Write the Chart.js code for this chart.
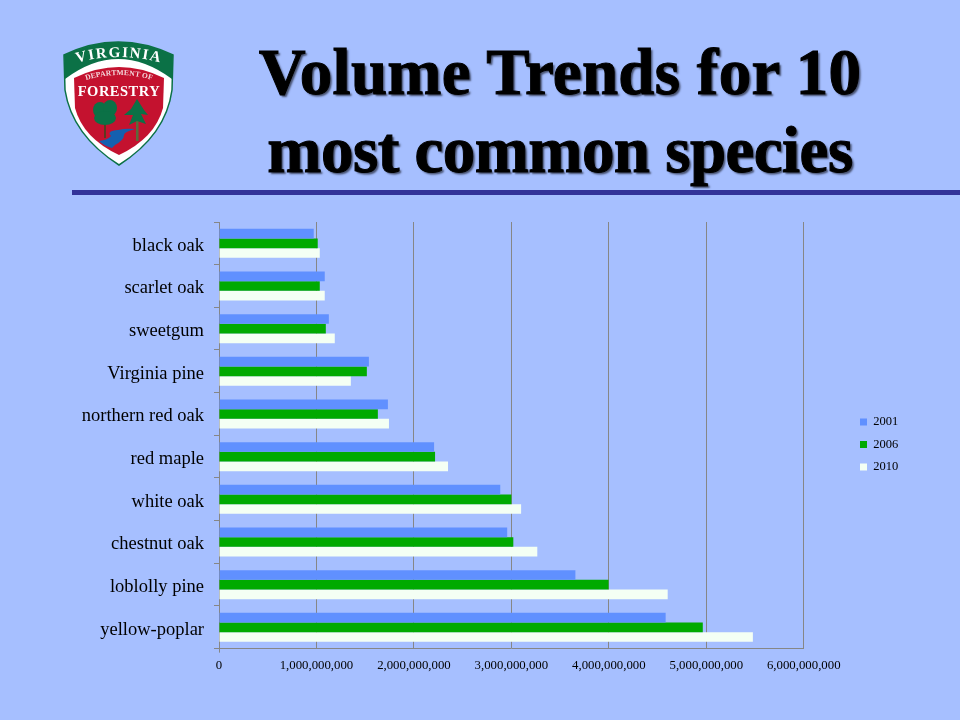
<!DOCTYPE html>
<html>
<head>
<meta charset="utf-8">
<script src="https://cdn.jsdelivr.net/npm/chart.js@4"></script>
<style>
  html, body { margin: 0; padding: 0; background: #A6BFFF; }
  #slide { position: relative; width: 960px; height: 720px; overflow: hidden; background: #A6BFFF; }
  #volume { position: absolute; left: 0; top: 0; }
  h1 {
    position: absolute; left: 200px; width: 720px; top: 33px; margin: 0; text-align: center;
    font: bold 65px/78px "Liberation Serif", serif; color: #000;
    -webkit-text-stroke: 1px #000;
    text-shadow: 2px 2px 2px #46506e;
  }
  h1 span { display: block; white-space: nowrap; }
  #rule { position: absolute; left: 72px; right: 0; top: 190px; height: 5px; background: #333399; }
  #logo { position: absolute; left: 60px; top: 38px; }
</style>
</head>
<body>
<div id="slide">
  <canvas id="volume" width="960" height="720"></canvas>
  <h1><span style="letter-spacing:.25px">Volume Trends for 10</span><span style="letter-spacing:-.55px">most common species</span></h1>
  <div id="rule"></div>
  <svg id="logo" width="120" height="130" viewBox="60 38 120 130">
    <defs>
      <path id="arcTop" d="M72 64 Q119 50 166 64"/>
      <path id="arcDept" d="M80 82 Q119 68 158 82"/>
    </defs>
    <path d="M64 55 Q118 29 173 55 L172 90 Q166 135 119 165 Q72 135 65 90 Z" fill="#fff" stroke="#0b7146" stroke-width="1.5"/>
    <path d="M64 55 Q118 29 173 55 L172 79 Q118 39 65 79 Z" fill="#0b7146"/>
    <path d="M74 78 Q119 56 164 78 L163 108 Q155 138 119 155 Q83 138 75 108 Z" fill="#c4122f"/>
    <path d="M99 141 Q108 140 111 136 Q106 131 118 130 Q126 128 135 129 Q124 132 124 135 Q124 140 115 145 L112 148 Q104 146 99 141 Z" fill="#1560b0"/>
    <rect x="104" y="118" width="2" height="20" fill="#5b3a20"/>
    <ellipse cx="100" cy="110" rx="7" ry="8" fill="#0b7146"/>
    <ellipse cx="110" cy="108" rx="7" ry="8" fill="#0b7146"/>
    <ellipse cx="105" cy="118" rx="11" ry="7" fill="#0b7146"/>
    <rect x="136" y="110" width="2.5" height="31" fill="#5b6a3a"/>
    <path d="M137 99 L144 110 L148 115 L141 114 L146 124 L137 121 L129 125 L133 115 L124 115 L131 109 Z" fill="#0b7146"/>
    <text font-family="Liberation Serif" font-weight="bold" font-size="15" letter-spacing="1.6" fill="#fff" text-anchor="middle"><textPath href="#arcTop" startOffset="50%">VIRGINIA</textPath></text>
    <text font-family="Liberation Serif" font-weight="bold" font-size="7.5" letter-spacing="0.2" fill="#f4d8dc" text-anchor="middle"><textPath href="#arcDept" startOffset="50%">DEPARTMENT OF</textPath></text>
    <text x="119" y="96" text-anchor="middle" font-family="Liberation Serif" font-weight="bold" font-size="14.5" letter-spacing="0.5" fill="#fff">FORESTRY</text>
  </svg>
</div>
<script>
const species = ["black oak", "scarlet oak", "sweetgum", "Virginia pine", "northern red oak", "red maple", "white oak", "chestnut oak", "loblolly pine", "yellow-poplar"];
const vol2001 = [972000000, 1085000000, 1127000000, 1538000000, 1733000000, 2207000000, 2886000000, 2957000000, 3657000000, 4583000000];
const vol2006 = [1013000000, 1034000000, 1096000000, 1517000000, 1630000000, 2217000000, 3000000000, 3020000000, 3997000000, 4964000000];
const vol2010 = [1034000000, 1085000000, 1188000000, 1353000000, 1744000000, 2350000000, 3100000000, 3266000000, 4604000000, 5478000000];
const xTicks = [0, 1000000000, 2000000000, 3000000000, 4000000000, 5000000000, 6000000000];

const axisGray = "#868686";

// the slide keeps its legend well clear of the plot, further than the layout puts it
const moveLegend = {
  id: "moveLegend",
  afterLayout(chart) {
    const lg = chart.legend;
    const w = lg.right - lg.left;
    lg.left = 850;
    lg.right = 850 + w;
    lg.top -= 5.5;
    lg.bottom -= 5.5;
  },
};

new Chart(document.getElementById("volume"), {
  type: "bar",
  plugins: [moveLegend],
  data: {
    labels: species,
    datasets: [
      { label: "2001", data: vol2001, backgroundColor: "#6090FF" },
      { label: "2006", data: vol2006, backgroundColor: "#00AA00" },
      { label: "2010", data: vol2010, backgroundColor: "#F4FFF4" },
    ],
  },
  options: {
    indexAxis: "y",
    responsive: false,
    animation: false,
    devicePixelRatio: 1,
    categoryPercentage: 0.68,
    barPercentage: 1,
    layout: { padding: { top: 222, right: 98, bottom: 42, left: 0 } },
    scales: {
      x: {
        min: 0,
        max: 6000000000,
        afterBuildTicks: scale => { scale.ticks = xTicks.map(v => ({ value: v })); },
        grid: {
          color: axisGray,
          lineWidth: 1,
          tickLength: 4,
          tickColor: ctx => (ctx.index === 0 ? axisGray : "transparent"),
        },
        border: { color: axisGray },
        ticks: {
          color: "#000",
          padding: 5,
          maxRotation: 0,
          font: { family: "Liberation Serif", size: 12.8 },
          callback: v => Number(v).toLocaleString("en-US"),
        },
      },
      y: {
        afterFit: scale => { scale.width = 219; },
        grid: { display: true, offset: true, drawOnChartArea: false, color: axisGray, tickLength: 5 },
        border: { color: axisGray },
        ticks: {
          color: "#000",
          padding: 10,
          labelOffset: 2.5,
          font: { family: "Liberation Serif", size: 18.5 },
        },
      },
    },
    plugins: {
      title: { display: false },
      tooltip: { enabled: false },
      legend: {
        position: "right",
        onClick: null,
        labels: {
          color: "#000",
          boxWidth: 7,
          boxHeight: 7,
          padding: 10,
          font: { family: "Liberation Serif", size: 12.5 },
        },
      },
    },
  },
});
</script>
</body>
</html>
